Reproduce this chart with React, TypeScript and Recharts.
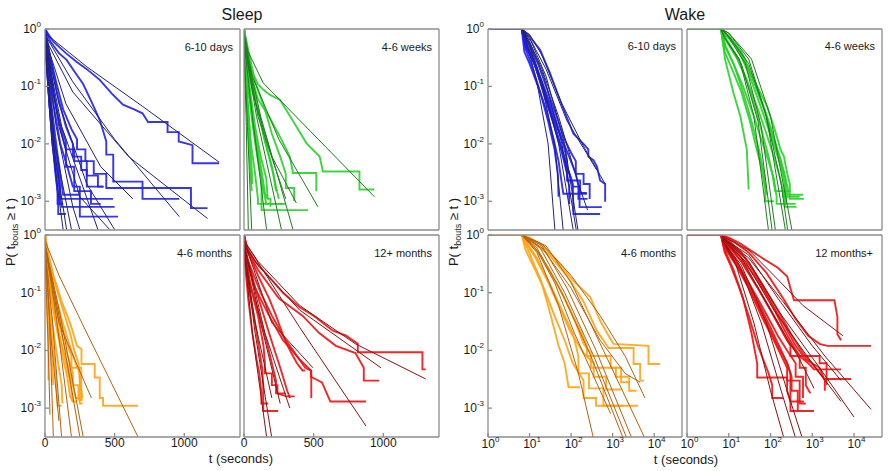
import { LineChart, Line, XAxis, YAxis } from 'recharts'

type Pt = [number, number]

// tick values
const sleepTicks = [0, 500, 1000]
const wakeTicks = [1, 10, 100, 1000, 10000]
const pTicks = [1, 0.1, 0.01, 0.001]

// ---- Sleep, 6-10 days
const sleepDaysSteps: Pt[][] = [
  [[0, 1], [60, 0.6], [150, 0.38], [226, 0.27], [300, 0.2], [393, 0.13], [480, 0.075], [560, 0.048], [640, 0.04], [700, 0.034], [740, 0.024], [880, 0.024], [880, 0.016], [960, 0.016], [960, 0.011], [1059, 0.0095], [1059, 0.0046], [1250, 0.0046]],
  [[0, 1], [40, 0.6], [100, 0.38], [155, 0.29], [220, 0.17], [274, 0.11], [340, 0.05], [393, 0.026], [440, 0.011], [440, 0.0065], [490, 0.0065], [490, 0.0022], [700, 0.0022], [700, 0.0011], [964, 0.0011]],
  [[0, 1], [30, 0.4], [80, 0.12], [130, 0.04], [190, 0.018], [230, 0.012], [230, 0.008], [290, 0.008], [290, 0.005], [350, 0.005], [350, 0.003], [440, 0.003], [440, 0.0017], [1048, 0.0017], [1048, 0.00076], [1167, 0.00076]],
  [[0, 1], [20, 0.4], [60, 0.08], [100, 0.025], [150, 0.011], [150, 0.008], [210, 0.008], [210, 0.005], [300, 0.005], [300, 0.0028], [380, 0.0028], [380, 0.0018], [420, 0.0018]],
  [[0, 1], [15, 0.3], [40, 0.05], [70, 0.01], [95, 0.004], [107, 0.002], [107, 0.0011], [488, 0.0011]],
  [[0, 1], [10, 0.3], [35, 0.04], [60, 0.01], [90, 0.003], [119, 0.0008], [500, 0.0008]],
  [[0, 1], [20, 0.35], [60, 0.05], [110, 0.01], [160, 0.004], [200, 0.0018], [250, 0.0018], [250, 0.00054], [524, 0.00054]],
  [[0, 1], [12, 0.3], [30, 0.06], [55, 0.01], [75, 0.003], [95, 0.0012], [95, 0.0006], [150, 0.0006]],
  [[0, 1], [25, 0.35], [70, 0.06], [120, 0.015], [150, 0.008], [150, 0.004], [210, 0.004], [210, 0.0015], [330, 0.0015], [330, 0.0009], [400, 0.0009]],
  [[0, 1], [8, 0.4], [25, 0.08], [45, 0.02], [70, 0.005], [90, 0.0015], [90, 0.0009], [130, 0.0009]],
  [[0, 1], [30, 0.4], [90, 0.07], [150, 0.02], [200, 0.01], [200, 0.006], [260, 0.006], [260, 0.0035], [300, 0.0035], [300, 0.0018], [420, 0.0018]],
  [[0, 1], [18, 0.3], [50, 0.04], [85, 0.008], [110, 0.003], [130, 0.0013], [250, 0.0013]],
]
const sleepDaysFits: Pt[][] = [
  [[0, 0.85], [300, 0.22], [700, 0.045], [1250, 0.0048]],
  [[0, 0.8], [200, 0.12], [500, 0.012], [964, 0.00054]],
  [[0, 0.7], [200, 0.08], [600, 0.006], [1167, 0.0005]],
  [[0, 0.7], [150, 0.05], [400, 0.004], [631, 0.0011]],
  [[0, 0.7], [100, 0.05], [300, 0.002], [500, 0.00032]],
  [[0, 0.6], [100, 0.02], [250, 0.0012], [465, 0.00032]],
  [[0, 0.6], [80, 0.02], [200, 0.0008], [250, 0.00032]],
  [[0, 0.5], [60, 0.01], [155, 0.00032]],
  [[0, 0.5], [50, 0.01], [130, 0.00032]],
  [[0, 0.5], [70, 0.01], [190, 0.00032]],
  [[0, 0.6], [120, 0.02], [380, 0.00032]],
]

// ---- Sleep, 4-6 weeks
const sleepWeeksSteps: Pt[][] = [
  [[0, 1], [15, 0.5], [50, 0.2], [100, 0.11], [138, 0.088], [186, 0.071], [257, 0.059], [300, 0.04], [376, 0.02], [448, 0.0103], [543, 0.006], [567, 0.0033], [829, 0.0033], [829, 0.0016], [936, 0.0016]],
  [[0, 1], [10, 0.5], [40, 0.2], [100, 0.06], [180, 0.03], [257, 0.0135], [329, 0.006], [352, 0.0031], [519, 0.0031], [519, 0.0015]],
  [[0, 1], [10, 0.4], [30, 0.1], [60, 0.025], [90, 0.008], [126, 0.0025], [126, 0.0007], [460, 0.0007]],
  [[0, 1], [15, 0.4], [45, 0.08], [80, 0.02], [120, 0.006], [160, 0.0025], [170, 0.0011], [190, 0.0011], [190, 0.0008]],
  [[0, 1], [8, 0.3], [25, 0.06], [50, 0.01], [80, 0.003], [100, 0.0011], [100, 0.0009], [280, 0.0009]],
  [[0, 1], [20, 0.45], [60, 0.1], [110, 0.03], [150, 0.011], [200, 0.004], [230, 0.0018], [250, 0.0011]],
  [[0, 1], [12, 0.35], [35, 0.08], [65, 0.02], [95, 0.006], [130, 0.002], [160, 0.0009], [300, 0.0009]],
  [[0, 1], [5, 0.5], [15, 0.1], [30, 0.02], [45, 0.004], [55, 0.0015]],
  [[0, 1], [25, 0.5], [80, 0.12], [150, 0.04], [200, 0.015], [260, 0.006], [300, 0.003], [300, 0.0017], [360, 0.0017], [360, 0.001]],
  [[0, 1], [10, 0.35], [35, 0.08], [70, 0.02], [100, 0.008], [130, 0.003], [150, 0.0014], [170, 0.0011]],
  [[0, 1], [18, 0.45], [55, 0.12], [100, 0.04], [140, 0.015], [180, 0.006], [210, 0.003], [230, 0.0015]],
  [[0, 1], [6, 0.4], [20, 0.08], [40, 0.015], [55, 0.004], [60, 0.002]],
]
const sleepWeeksFits: Pt[][] = [
  [[0, 0.9], [30, 0.4], [138, 0.115], [936, 0.0012]],
  [[0, 0.8], [60, 0.15], [250, 0.012], [531, 0.0008]],
  [[0, 0.7], [60, 0.08], [200, 0.006], [376, 0.00093]],
  [[0, 0.5], [15, 0.03], [31, 0.00032]],
  [[0, 0.5], [25, 0.02], [55, 0.00032]],
  [[0, 0.6], [60, 0.03], [162, 0.00032]],
  [[0, 0.6], [90, 0.03], [269, 0.00032]],
  [[0, 0.6], [120, 0.03], [352, 0.00032]],
  [[0, 0.7], [100, 0.03], [300, 0.0011]],
]

// ---- Sleep, 4-6 months
const sleepMonthsSteps: Pt[][] = [
  [[0, 1], [20, 0.5], [60, 0.2], [120, 0.07], [180, 0.03], [230, 0.012], [262, 0.0105], [262, 0.0058], [357, 0.0058], [357, 0.0034], [393, 0.0034], [393, 0.0015], [417, 0.0015], [417, 0.0011], [667, 0.0011]],
  [[0, 1], [15, 0.45], [50, 0.12], [100, 0.04], [150, 0.015], [190, 0.008], [190, 0.005], [260, 0.005], [260, 0.0014], [270, 0.0014]],
  [[0, 1], [10, 0.4], [40, 0.1], [80, 0.03], [130, 0.01], [170, 0.005], [200, 0.0025], [220, 0.0015], [260, 0.0015]],
  [[0, 1], [5, 0.3], [15, 0.05], [25, 0.012], [25, 0.003]],
  [[0, 1], [8, 0.3], [30, 0.06], [60, 0.01], [80, 0.003], [90, 0.0011], [120, 0.0011]],
  [[0, 1], [20, 0.3], [60, 0.06], [110, 0.015], [150, 0.006], [180, 0.003], [200, 0.0013], [230, 0.0013]],
  [[0, 1], [25, 0.45], [70, 0.15], [130, 0.05], [180, 0.02], [210, 0.01], [240, 0.006], [250, 0.003], [270, 0.0015]],
  [[0, 1], [12, 0.35], [45, 0.08], [90, 0.02], [130, 0.007], [160, 0.0035], [180, 0.0016], [200, 0.0013]],
  [[0, 1], [18, 0.4], [55, 0.1], [100, 0.03], [140, 0.012], [180, 0.006], [200, 0.004], [200, 0.0025], [240, 0.0025], [240, 0.0014], [270, 0.0014]],
  [[0, 1], [6, 0.3], [20, 0.06], [40, 0.012], [55, 0.004], [60, 0.0025]],
  [[0, 1], [22, 0.4], [70, 0.1], [120, 0.035], [170, 0.014], [220, 0.006], [250, 0.004], [250, 0.0012], [270, 0.0012]],
  [[0, 1], [10, 0.3], [35, 0.06], [70, 0.015], [100, 0.005], [120, 0.0025], [125, 0.0012]],
]
const sleepMonthsFits: Pt[][] = [
  [[0, 0.8], [100, 0.2], [300, 0.02], [667, 0.00032]],
  [[0, 0.6], [30, 0.05], [60, 0.00032]],
  [[0, 0.6], [50, 0.04], [119, 0.00032]],
  [[0, 0.7], [80, 0.04], [190, 0.00032]],
  [[0, 0.7], [100, 0.04], [250, 0.00032]],
  [[0, 0.7], [110, 0.04], [274, 0.00032]],
  [[0, 0.7], [100, 0.03], [333, 0.0015]],
  [[0, 0.6], [40, 0.02], [100, 0.0006]],
  [[0, 0.5], [20, 0.02], [36, 0.00077]],
]

// ---- Sleep, 12+ months
const sleepYearSteps: Pt[][] = [
  [[0, 1], [20, 0.6], [80, 0.35], [162, 0.21], [280, 0.1], [400, 0.056], [500, 0.04], [638, 0.022], [733, 0.018], [817, 0.013], [817, 0.0093], [1281, 0.0093], [1281, 0.0047], [1305, 0.0047]],
  [[0, 1], [30, 0.5], [100, 0.25], [250, 0.08], [420, 0.04], [540, 0.02], [660, 0.012], [800, 0.009], [860, 0.005], [860, 0.003], [970, 0.003]],
  [[0, 1], [20, 0.4], [120, 0.1], [200, 0.04], [280, 0.018], [380, 0.008], [440, 0.005], [480, 0.0045], [480, 0.0035], [560, 0.0028], [620, 0.0013], [876, 0.0013]],
  [[0, 1], [15, 0.4], [80, 0.12], [180, 0.04], [280, 0.015], [400, 0.007], [483, 0.0044], [483, 0.0015]],
  [[0, 1], [10, 0.35], [40, 0.1], [80, 0.03], [110, 0.01], [130, 0.005], [138, 0.0025], [138, 0.00089], [245, 0.00089]],
  [[0, 1], [15, 0.4], [50, 0.12], [100, 0.04], [140, 0.012], [150, 0.006], [150, 0.004], [200, 0.004], [200, 0.0025], [240, 0.0025], [240, 0.0018], [305, 0.0016], [364, 0.0016]],
  [[0, 1], [20, 0.45], [70, 0.15], [130, 0.05], [180, 0.02], [220, 0.01], [250, 0.006], [280, 0.0035], [310, 0.002], [330, 0.0015]],
  [[0, 1], [8, 0.3], [30, 0.08], [60, 0.02], [90, 0.007], [110, 0.004], [125, 0.0018], [125, 0.0012], [174, 0.0012]],
  [[0, 1], [30, 0.5], [100, 0.2], [180, 0.08], [230, 0.04], [260, 0.025], [300, 0.014], [340, 0.009], [380, 0.006], [420, 0.0045], [440, 0.0045]],
  [[0, 1], [10, 0.5], [40, 0.15], [100, 0.05], [160, 0.015], [200, 0.006], [230, 0.003], [230, 0.0018], [300, 0.0018]],
]
const sleepYearFits: Pt[][] = [
  [[0, 0.8], [100, 0.35], [400, 0.06], [800, 0.013], [1305, 0.0032]],
  [[0, 0.7], [100, 0.3], [400, 0.05], [983, 0.005]],
  [[0, 0.8], [400, 0.025], [876, 0.00049]],
  [[0, 0.6], [60, 0.02], [162, 0.00032]],
  [[0, 0.6], [80, 0.02], [198, 0.00032]],
  [[0, 0.7], [150, 0.02], [329, 0.001]],
  [[0, 0.7], [120, 0.03], [260, 0.0012]],
  [[0, 0.8], [200, 0.03], [495, 0.005]],
  [[0, 0.6], [80, 0.03], [200, 0.0015]],
]

// ---- Wake, 6-10 days
const wakeDaysSteps: Pt[][] = [
  [[1, 1], [6.5, 1], [10, 0.75], [18, 0.43], [31, 0.17], [54, 0.058], [114, 0.015], [199, 0.01], [260, 0.008], [260, 0.006], [346, 0.0052], [420, 0.004], [500, 0.0023], [660, 0.002], [660, 0.00098]],
  [[1, 1], [6.5, 1], [8, 0.5], [12, 0.3], [20, 0.1], [30, 0.04], [45, 0.015], [60, 0.008], [80, 0.004], [100, 0.0025], [110, 0.0018], [150, 0.0018], [150, 0.0011], [250, 0.0011]],
  [[1, 1], [6.5, 1], [9, 0.5], [15, 0.2], [25, 0.07], [40, 0.025], [60, 0.012], [90, 0.006], [130, 0.003], [160, 0.0015], [160, 0.00079], [550, 0.00079]],
  [[1, 1], [6.5, 1], [8, 0.6], [12, 0.3], [20, 0.12], [35, 0.04], [55, 0.015], [70, 0.008], [80, 0.005], [80, 0.0023], [165, 0.0023], [165, 0.0014], [240, 0.0014]],
  [[1, 1], [6.5, 1], [7.5, 0.4], [10, 0.25], [16, 0.1], [25, 0.04], [38, 0.012], [50, 0.005], [60, 0.002], [65, 0.00135], [240, 0.00135]],
  [[1, 1], [6.5, 1], [8, 0.5], [13, 0.25], [22, 0.08], [35, 0.03], [55, 0.01], [80, 0.004], [110, 0.002], [114, 0.0006], [500, 0.0006]],
  [[1, 1], [6.5, 1], [9, 0.6], [16, 0.25], [28, 0.08], [45, 0.03], [70, 0.012], [100, 0.007], [130, 0.005], [130, 0.003], [200, 0.003], [200, 0.002], [280, 0.002], [280, 0.0011]],
  [[1, 1], [6.5, 1], [8, 0.45], [11, 0.25], [18, 0.08], [28, 0.025], [40, 0.008], [48, 0.003], [50, 0.0012]],
  [[1, 1], [6.5, 1], [8, 0.55], [14, 0.22], [24, 0.06], [40, 0.02], [60, 0.007], [80, 0.003], [90, 0.0018], [90, 0.0009]],
]
const wakeDaysFits: Pt[][] = [
  [[6.5, 1], [10, 0.8], [20, 0.35], [60, 0.05], [200, 0.009], [660, 0.002]],
  [[6.5, 1], [10, 0.55], [20, 0.12], [50, 0.01], [114, 0.0003]],
  [[6.5, 1], [10, 0.5], [20, 0.1], [40, 0.01], [65, 0.0003]],
  [[6.5, 1], [9, 0.5], [15, 0.12], [28, 0.01], [41, 0.0003]],
  [[6.5, 1], [10, 0.6], [22, 0.15], [60, 0.01], [135, 0.0003]],
  [[6.5, 1], [11, 0.6], [25, 0.15], [70, 0.01], [148, 0.0003]],
  [[6.5, 1], [10, 0.7], [25, 0.2], [80, 0.025], [415, 0.0035]],
  [[6.5, 1], [10, 0.6], [20, 0.2], [50, 0.03], [150, 0.002], [250, 0.0007]],
]

// ---- Wake, 4-6 weeks
const wakeWeeksSteps: Pt[][] = [
  [[1, 1], [6.5, 1], [13, 0.57], [27, 0.22], [48, 0.1], [83, 0.045], [120, 0.02], [174, 0.008], [210, 0.006], [252, 0.003], [290, 0.002], [290, 0.0011], [630, 0.0011]],
  [[1, 1], [6.5, 1], [8.2, 0.29], [13, 0.077], [19, 0.03], [27, 0.008], [30, 0.0016]],
  [[1, 1], [6.5, 1], [8.5, 0.5], [14, 0.22], [22, 0.1], [40, 0.03], [60, 0.012], [90, 0.005], [120, 0.0025], [140, 0.0012], [140, 0.0009], [400, 0.0009]],
  [[1, 1], [6.5, 1], [9, 0.6], [16, 0.3], [28, 0.12], [50, 0.04], [80, 0.015], [120, 0.006], [160, 0.003], [200, 0.0015], [200, 0.0012], [500, 0.0012]],
  [[1, 1], [6.5, 1], [10, 0.7], [18, 0.4], [32, 0.15], [55, 0.05], [90, 0.018], [130, 0.008], [180, 0.004], [220, 0.002], [220, 0.0008], [420, 0.0008]],
  [[1, 1], [6.5, 1], [8, 0.4], [12, 0.2], [20, 0.08], [32, 0.025], [45, 0.009], [60, 0.004], [75, 0.0016], [75, 0.001], [120, 0.001]],
  [[1, 1], [6.5, 1], [11, 0.7], [22, 0.35], [40, 0.12], [70, 0.04], [110, 0.014], [150, 0.007], [200, 0.0035], [260, 0.0017], [260, 0.0013], [600, 0.0013]],
  [[1, 1], [6.5, 1], [9, 0.65], [15, 0.35], [25, 0.15], [40, 0.05], [60, 0.018], [90, 0.006], [110, 0.003], [130, 0.0015], [300, 0.0015]],
  [[1, 1], [6.5, 1], [8, 0.5], [13, 0.25], [22, 0.08], [35, 0.025], [55, 0.007], [70, 0.003], [80, 0.0013]],
  [[1, 1], [6.5, 1], [10, 0.75], [20, 0.4], [38, 0.14], [65, 0.05], [100, 0.02], [140, 0.009], [180, 0.005], [230, 0.0025], [240, 0.0009]],
]
const wakeWeeksFits: Pt[][] = [
  [[6.5, 1], [8, 0.7], [20, 0.25], [50, 0.025], [110, 0.0003]],
  [[6.5, 1], [9, 0.8], [25, 0.25], [60, 0.02], [132, 0.0003]],
  [[6.5, 1], [10, 0.85], [30, 0.3], [80, 0.03], [230, 0.0003]],
  [[6.5, 1], [10, 0.85], [35, 0.3], [100, 0.03], [330, 0.0003]],
  [[6.5, 1], [8, 0.7], [18, 0.3], [40, 0.03], [90, 0.0003]],
  [[6.5, 1], [10, 0.75], [30, 0.25], [80, 0.03], [180, 0.002], [260, 0.0003]],
]

// ---- Wake, 4-6 months
const wakeMonthsSteps: Pt[][] = [
  [[1, 1], [6.5, 1], [10, 0.9], [18, 0.71], [45, 0.37], [114, 0.16], [290, 0.084], [500, 0.033], [800, 0.018], [1050, 0.013], [7300, 0.012], [7300, 0.0058], [13900, 0.0058]],
  [[1, 1], [6.5, 1], [12, 0.75], [30, 0.45], [78, 0.2], [200, 0.07], [415, 0.022], [600, 0.015], [800, 0.011], [3200, 0.011], [3200, 0.0058], [4600, 0.0058], [4600, 0.003], [5700, 0.003]],
  [[1, 1], [6.5, 1], [9, 0.7], [15, 0.4], [30, 0.15], [60, 0.05], [110, 0.02], [150, 0.008], [150, 0.004], [270, 0.004], [270, 0.0022], [600, 0.0022], [600, 0.0011], [4100, 0.0011]],
  [[1, 1], [6.5, 1], [8, 0.7], [12, 0.35], [19, 0.16], [28, 0.06], [36, 0.03], [50, 0.012], [70, 0.006], [87, 0.0023], [165, 0.0023]],
  [[1, 1], [6.5, 1], [10, 0.75], [18, 0.45], [35, 0.2], [70, 0.08], [130, 0.03], [200, 0.013], [300, 0.009], [300, 0.005], [1200, 0.005], [1200, 0.0035], [2500, 0.0035], [2500, 0.002], [3800, 0.002]],
  [[1, 1], [6.5, 1], [9, 0.8], [16, 0.5], [30, 0.25], [60, 0.1], [110, 0.04], [180, 0.02], [240, 0.012], [240, 0.008], [900, 0.008], [900, 0.005], [1600, 0.005], [1600, 0.0028], [2600, 0.0028]],
  [[1, 1], [6.5, 1], [8, 0.55], [12, 0.3], [22, 0.12], [40, 0.04], [70, 0.015], [110, 0.006], [200, 0.003], [200, 0.0015], [400, 0.0015], [400, 0.0011], [1800, 0.0011]],
  [[1, 1], [6.5, 1], [9, 0.65], [14, 0.4], [25, 0.18], [50, 0.06], [100, 0.02], [200, 0.009], [350, 0.006], [350, 0.0035], [700, 0.0035], [700, 0.0021], [1600, 0.0021]],
]
const wakeMonthsFits: Pt[][] = [
  [[6.5, 1], [20, 0.7], [100, 0.2], [500, 0.04], [2000, 0.008], [6000, 0.0015]],
  [[6.5, 1], [20, 0.6], [100, 0.12], [500, 0.015], [2000, 0.004], [4600, 0.0028]],
  [[6.5, 1], [15, 0.5], [50, 0.06], [150, 0.004], [346, 0.0003]],
  [[6.5, 1], [15, 0.6], [60, 0.1], [300, 0.008], [1800, 0.0003]],
  [[6.5, 1], [18, 0.6], [70, 0.1], [350, 0.008], [2200, 0.0003]],
  [[6.5, 1], [20, 0.65], [80, 0.12], [400, 0.01], [2900, 0.0003]],
  [[6.5, 1], [25, 0.65], [100, 0.15], [600, 0.01], [6000, 0.0003]],
  [[6.5, 1], [15, 0.55], [40, 0.15], [120, 0.02], [500, 0.002], [900, 0.0008]],
]

// ---- Wake, 12 months+
const wakeYearSteps: Pt[][] = [
  [[1, 1], [6.5, 1], [10, 0.9], [19, 0.71], [57, 0.42], [150, 0.27], [252, 0.19], [300, 0.12], [365, 0.074], [3400, 0.074], [4000, 0.038], [4000, 0.019], [4900, 0.015]],
  [[1, 1], [6.5, 1], [12, 0.8], [30, 0.5], [80, 0.22], [200, 0.08], [400, 0.035], [800, 0.018], [1500, 0.013], [2300, 0.012], [25600, 0.012]],
  [[1, 1], [6.5, 1], [10, 0.75], [25, 0.4], [60, 0.15], [150, 0.05], [300, 0.02], [600, 0.009], [1200, 0.005], [1950, 0.0032], [8500, 0.0032]],
  [[1, 1], [6.5, 1], [9, 0.7], [20, 0.35], [50, 0.12], [120, 0.04], [250, 0.015], [500, 0.008], [800, 0.006], [1100, 0.0047], [4900, 0.0047]],
  [[1, 1], [6.5, 1], [8, 0.55], [13, 0.25], [22, 0.08], [35, 0.02], [48, 0.006], [48, 0.0034], [250, 0.0034], [250, 0.002], [300, 0.0013], [630, 0.0013]],
  [[1, 1], [6.5, 1], [9, 0.65], [16, 0.3], [35, 0.1], [80, 0.03], [150, 0.012], [250, 0.006], [300, 0.004], [300, 0.00089], [1100, 0.00089]],
  [[1, 1], [6.5, 1], [10, 0.8], [20, 0.5], [45, 0.2], [100, 0.07], [200, 0.025], [350, 0.012], [500, 0.008], [500, 0.005], [700, 0.005], [700, 0.0025], [900, 0.0018]],
  [[1, 1], [6.5, 1], [8, 0.7], [14, 0.4], [30, 0.15], [70, 0.05], [150, 0.018], [250, 0.01], [400, 0.006], [400, 0.0035], [600, 0.0035], [600, 0.0015]],
  [[1, 1], [6.5, 1], [9, 0.75], [18, 0.45], [40, 0.2], [90, 0.08], [200, 0.03], [400, 0.012], [700, 0.007], [1500, 0.005], [2000, 0.003], [2000, 0.002]],
  [[1, 1], [6.5, 1], [8, 0.5], [11, 0.3], [18, 0.12], [30, 0.04], [50, 0.012], [90, 0.004], [110, 0.0025], [110, 0.0015], [200, 0.0015]],
  [[1, 1], [6.5, 1], [8, 0.6], [15, 0.3], [30, 0.12], [60, 0.04], [120, 0.015], [200, 0.007], [250, 0.005], [250, 0.003], [500, 0.003], [500, 0.0012], [700, 0.0012]],
  [[1, 1], [6.5, 1], [9, 0.7], [20, 0.35], [50, 0.12], [100, 0.05], [200, 0.02], [300, 0.012], [300, 0.008], [1500, 0.008], [1500, 0.006], [2200, 0.006], [2200, 0.0025]],
  [[1, 1], [6.5, 1], [8, 0.65], [12, 0.4], [25, 0.18], [50, 0.07], [100, 0.025], [180, 0.01], [250, 0.006], [320, 0.0035], [320, 0.002], [450, 0.002], [450, 0.0009]],
]
const wakeYearFits: Pt[][] = [
  [[7, 0.95], [30, 0.55], [120, 0.2], [600, 0.06], [5400, 0.018]],
  [[7, 0.9], [30, 0.4], [200, 0.07], [2000, 0.008], [25600, 0.00095]],
  [[7, 0.9], [30, 0.35], [150, 0.05], [1500, 0.005], [10000, 0.0007]],
  [[7, 0.85], [25, 0.35], [120, 0.05], [1000, 0.006], [4900, 0.0013]],
  [[7, 0.85], [20, 0.4], [100, 0.05], [500, 0.007], [1100, 0.0022]],
  [[7, 0.8], [20, 0.3], [80, 0.03], [250, 0.002], [580, 0.0003]],
  [[7, 0.8], [18, 0.3], [60, 0.03], [180, 0.002], [400, 0.0003]],
  [[7, 0.8], [15, 0.3], [40, 0.03], [100, 0.002], [210, 0.0003]],
  [[7, 0.9], [30, 0.45], [150, 0.08], [1000, 0.012], [4900, 0.003]],
]

const AXIS = '#8c8c8c'
const FONT = '"Liberation Sans", Arial, Helvetica, sans-serif'
const L = 44
const R = 6
const T = 14
const B = 26

const toRows = (pts: Pt[]) => pts.map(([t, p]) => ({ t, p }))

const YTick = ({ x, y, payload }: any) => {
  const e = Math.round(Math.log10(payload.value))
  return (
    <text x={x} y={y + 4} textAnchor="end" fontSize={12} fill="#1a1a1a" fontFamily={FONT}>
      10<tspan dy={-6} fontSize={8}>{e}</tspan>
    </text>
  )
}

const XLinTick = ({ x, y, payload }: any) => (
  <text x={x} y={y + 9} textAnchor="middle" fontSize={12} fill="#1a1a1a" fontFamily={FONT}>
    {payload.value}
  </text>
)

const XLogTick = ({ x, y, payload }: any) => {
  const e = Math.round(Math.log10(payload.value))
  return (
    <text x={x + 2.5} y={y + 10} textAnchor="middle" fontSize={12} fill="#1a1a1a" fontFamily={FONT}>
      10<tspan dy={-6} fontSize={8}>{e}</tspan>
    </text>
  )
}

interface PanelProps {
  x: number
  y: number
  w: number
  h: number
  steps: Pt[][]
  fits: Pt[][]
  color: string
  fitColor: string
  log?: boolean
  yLabels?: boolean
  xLabels?: boolean
}

function Panel({ x, y, w, h, steps, fits, color, fitColor, log, yLabels, xLabels }: PanelProps) {
  const xDomain = log ? [1, 46800] : [0, 1400]
  const xTicks = log ? wakeTicks : sleepTicks
  const xScale = log ? 'log' : 'linear'
  const line = { stroke: AXIS, strokeWidth: 1.3 }
  return (
    <div style={{ position: 'absolute', left: x - L, top: y - T }}>
      <LineChart width={w + L + R} height={h + T + B} margin={{ top: 0, right: 0, bottom: 0, left: 0 }}>
        <XAxis
          xAxisId="b"
          type="number"
          dataKey="t"
          scale={xScale}
          domain={xDomain}
          ticks={xTicks}
          allowDataOverflow
          height={B}
          axisLine={line}
          tickLine={line}
          tickSize={-4}
          tickMargin={5}
          tick={xLabels ? (log ? <XLogTick /> : <XLinTick />) : false}
        />
        <XAxis
          xAxisId="t"
          orientation="top"
          type="number"
          dataKey="t"
          scale={xScale}
          domain={xDomain}
          ticks={xTicks}
          allowDataOverflow
          height={T}
          axisLine={line}
          tickLine={line}
          tickSize={-4}
          tick={false}
        />
        <YAxis
          yAxisId="l"
          type="number"
          scale="log"
          domain={[0.000316, 1]}
          ticks={pTicks}
          allowDataOverflow
          width={L}
          axisLine={line}
          tickLine={line}
          tickSize={-4}
          tickMargin={8}
          tick={yLabels ? <YTick /> : false}
        />
        <YAxis
          yAxisId="r"
          orientation="right"
          type="number"
          scale="log"
          domain={[0.000316, 1]}
          ticks={pTicks}
          allowDataOverflow
          width={R}
          axisLine={line}
          tickLine={line}
          tickSize={-4}
          tick={false}
        />
        {steps.map((s, i) => (
          <Line
            key={'s' + i}
            data={toRows(s)}
            dataKey="p"
            xAxisId="b"
            yAxisId="l"
            type="linear"
            stroke={color}
            strokeWidth={1.9}
            strokeOpacity={0.9}
            dot={false}
            activeDot={false}
            isAnimationActive={false}
          />
        ))}
        {fits.map((f, i) => (
          <Line
            key={'f' + i}
            data={toRows(f)}
            dataKey="p"
            xAxisId="b"
            yAxisId="l"
            type="linear"
            stroke={fitColor}
            strokeWidth={1}
            dot={false}
            activeDot={false}
            isAnimationActive={false}
          />
        ))}
      </LineChart>
    </div>
  )
}

const txt = { fontFamily: FONT, fill: '#1a1a1a' }

export default function App() {
  return (
    <div style={{ position: 'absolute', left: 0, top: 0, width: 892, height: 471, background: '#fff', overflow: 'hidden' }}>
      <Panel x={45} y={29} w={195} h={201} steps={sleepDaysSteps} fits={sleepDaysFits} color="#1f1ff2" fitColor="#22227a" yLabels />
      <Panel x={244} y={29} w={195} h={201} steps={sleepWeeksSteps} fits={sleepWeeksFits} color="#28d228" fitColor="#1d7d1d" />
      <Panel x={45} y={235} w={195} h={202} steps={sleepMonthsSteps} fits={sleepMonthsFits} color="#ffa214" fitColor="#b5620f" yLabels xLabels />
      <Panel x={244} y={235} w={195} h={202} steps={sleepYearSteps} fits={sleepYearFits} color="#f01010" fitColor="#8a1212" xLabels />
      <Panel x={488} y={29} w={194} h={201} steps={wakeDaysSteps} fits={wakeDaysFits} color="#1f1ff2" fitColor="#22227a" log yLabels />
      <Panel x={687} y={29} w={195} h={201} steps={wakeWeeksSteps} fits={wakeWeeksFits} color="#28d228" fitColor="#1d7d1d" log />
      <Panel x={488} y={235} w={194} h={202} steps={wakeMonthsSteps} fits={wakeMonthsFits} color="#ffa214" fitColor="#b5620f" log yLabels xLabels />
      <Panel x={687} y={235} w={195} h={202} steps={wakeYearSteps} fits={wakeYearFits} color="#f01010" fitColor="#8a1212" log xLabels />
      <svg width={892} height={471} style={{ position: 'absolute', left: 0, top: 0, pointerEvents: 'none' }}>
        <text x={242} y={20} textAnchor="middle" fontSize={16} {...txt}>Sleep</text>
        <text x={685} y={20} textAnchor="middle" fontSize={16} {...txt}>Wake</text>
        <text x={233} y={51} textAnchor="end" fontSize={11} {...txt}>6-10 days</text>
        <text x={432} y={51} textAnchor="end" fontSize={11} {...txt}>4-6 weeks</text>
        <text x={676} y={50} textAnchor="end" fontSize={11} {...txt}>6-10 days</text>
        <text x={875} y={50} textAnchor="end" fontSize={11} {...txt}>4-6 weeks</text>
        <text x={232} y={257} textAnchor="end" fontSize={11} {...txt}>4-6 months</text>
        <text x={432} y={257} textAnchor="end" fontSize={11} {...txt}>12+ months</text>
        <text x={676} y={257} textAnchor="end" fontSize={11} {...txt}>4-6 months</text>
        <text x={873} y={257} textAnchor="end" fontSize={11} {...txt}>12 months+</text>
        <text transform="translate(15,232) rotate(-90)" textAnchor="middle" fontSize={13} {...txt}>
          P( t<tspan dy={3} fontSize={9}>bouts</tspan><tspan dy={-3}> ≥ t )</tspan>
        </text>
        <text transform="translate(458,232) rotate(-90)" textAnchor="middle" fontSize={13} {...txt}>
          P( t<tspan dy={3} fontSize={9}>bouts</tspan><tspan dy={-3}> ≥ t )</tspan>
        </text>
        <text x={241} y={463} textAnchor="middle" fontSize={13} {...txt}>t (seconds)</text>
        <text x={686} y={464} textAnchor="middle" fontSize={13} {...txt}>t (seconds)</text>
      </svg>
    </div>
  )
}
